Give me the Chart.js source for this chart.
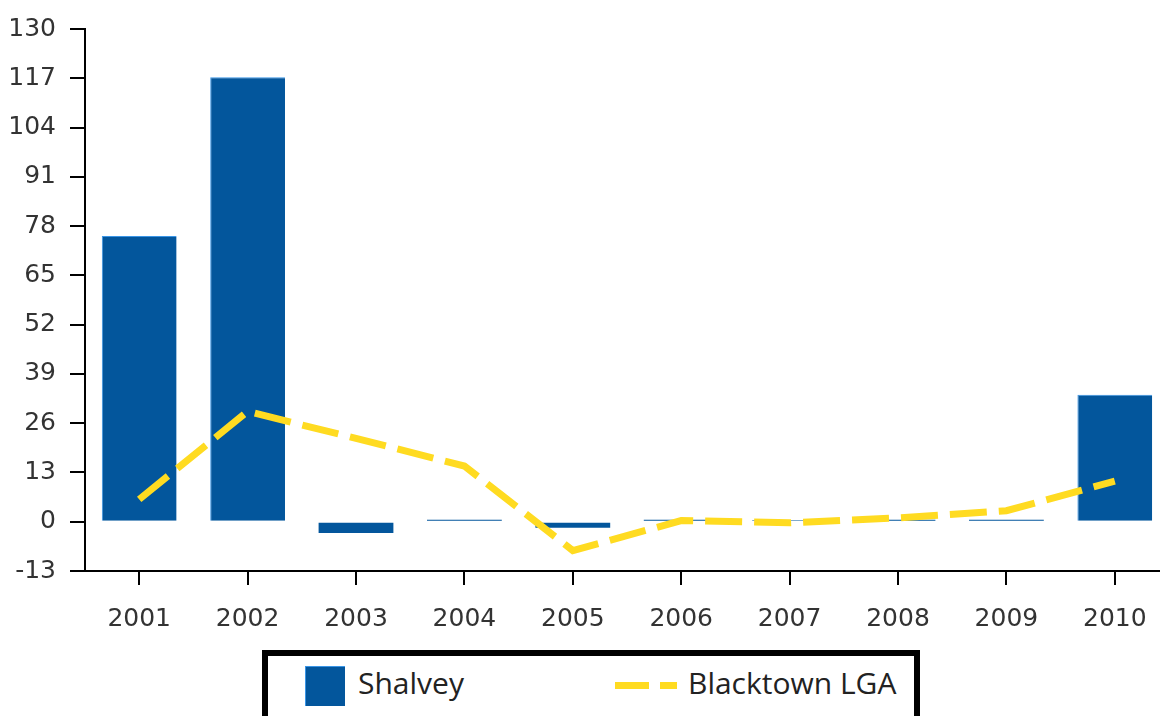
<!DOCTYPE html>
<html>
<head>
<meta charset="utf-8">
<script src="https://cdn.jsdelivr.net/npm/chart.js@4"></script>
<style>
    html, body { margin: 0; padding: 0; background: #fff; overflow: hidden; }
    #wrap { position: relative; width: 1170px; height: 716px; }
    #legend { position: absolute; left: 262px; top: 650px; width: 646px; height: 80px;
              border: 6px solid #000; background: #fff; }
    .item { position: absolute; font-family: 'Open Sans', sans-serif; font-size: 30px;
            line-height: 40px; color: #222; white-space: nowrap; }
    .swatch { position: absolute; }
</style>
</head>
<body>
<div id="wrap">
    <canvas id="chart" width="1170" height="716"></canvas>
    <div id="legend"></div>
</div>
<script>
    // data
    const years = ['2001', '2002', '2003', '2004', '2005', '2006', '2007', '2008', '2009', '2010'];
    const shalvey = [75.4, 117.3, -3.0, 0.5, -1.6, 0.5, 0.4, 0.5, 0.5, 33.5];
    const blacktown = [5.9, 29.1, 22, 14.7, -7.6, 0.3, -0.3, 1.0, 2.9, 10.7];
    const yTicks = [-13, 0, 13, 26, 39, 52, 65, 78, 91, 104, 117, 130];

    const blue = '#03569c';
    const yellow = '#ffdb21';

    // Legend drawn in html (box with thick black border)
    const legend = document.getElementById('legend');
    legend.innerHTML =
        '<div class="swatch" style="left:37px;top:10px;width:39px;height:39px;background:' + blue +
            ';border-top:1px solid #3a95e6;border-left:1px solid #3a95e6;"></div>' +
        '<div class="item" style="left:90px;top:7px;">Shalvey</div>' +
        '<div class="swatch" style="left:347px;top:26px;width:34px;height:7px;background:' + yellow + ';"></div>' +
        '<div class="swatch" style="left:392px;top:26px;width:17px;height:7px;background:' + yellow + ';"></div>' +
        '<div class="item" style="left:420px;top:7px;">Blacktown LGA</div>';

    const ctx = document.getElementById('chart').getContext('2d');
    new Chart(ctx, {
        type: 'bar',
        data: {
            labels: years,
            datasets: [{
                type: 'bar',
                label: 'Shalvey',
                data: shalvey,
                backgroundColor: blue,
                borderColor: '#3a95e6',
                // light edge only on the tall bars, the near-zero ones stay dark
                borderWidth: function(c) {
                    return Math.abs(c.raw) > 5 ? { left: 1, top: 1, right: 0, bottom: 0 } : 0;
                },
                barPercentage: 0.69,
                categoryPercentage: 1,
                order: 2
            }, {
                type: 'line',
                label: 'Blacktown LGA',
                data: blacktown,
                borderColor: yellow,
                borderWidth: 7,
                borderDash: [37, 12],
                pointRadius: 0,
                tension: 0,
                fill: false,
                order: 1
            }]
        },
        options: {
            responsive: false,
            animation: false,
            layout: { padding: { top: 25, right: 1, left: 0, bottom: 0 } },
            plugins: {
                legend: { display: false },
                tooltip: { enabled: false }
            },
            scales: {
                x: {
                    offset: true,
                    grid: { offset: false, drawOnChartArea: false, drawTicks: true, tickLength: 14, color: '#000', lineWidth: 2 },
                    border: { display: true, color: '#000', width: 2 },
                    ticks: { color: '#333', padding: 19, font: { family: 'DejaVu Sans', size: 25 }, maxRotation: 0 },
                    afterFit: function(scale) { scale.height = 145; }
                },
                y: {
                    min: -13,
                    max: 130,
                    afterBuildTicks: function(scale) { scale.ticks = yTicks.map(v => ({ value: v })); },
                    grid: { drawOnChartArea: false, drawTicks: true, tickLength: 15, color: '#000', lineWidth: 2 },
                    border: { display: true, color: '#000', width: 2 },
                    ticks: { color: '#333', padding: 14, font: { family: 'DejaVu Sans', size: 25 } },
                    afterFit: function(scale) { scale.width = 85; }
                }
            }
        }
    });
</script>
</body>
</html>
